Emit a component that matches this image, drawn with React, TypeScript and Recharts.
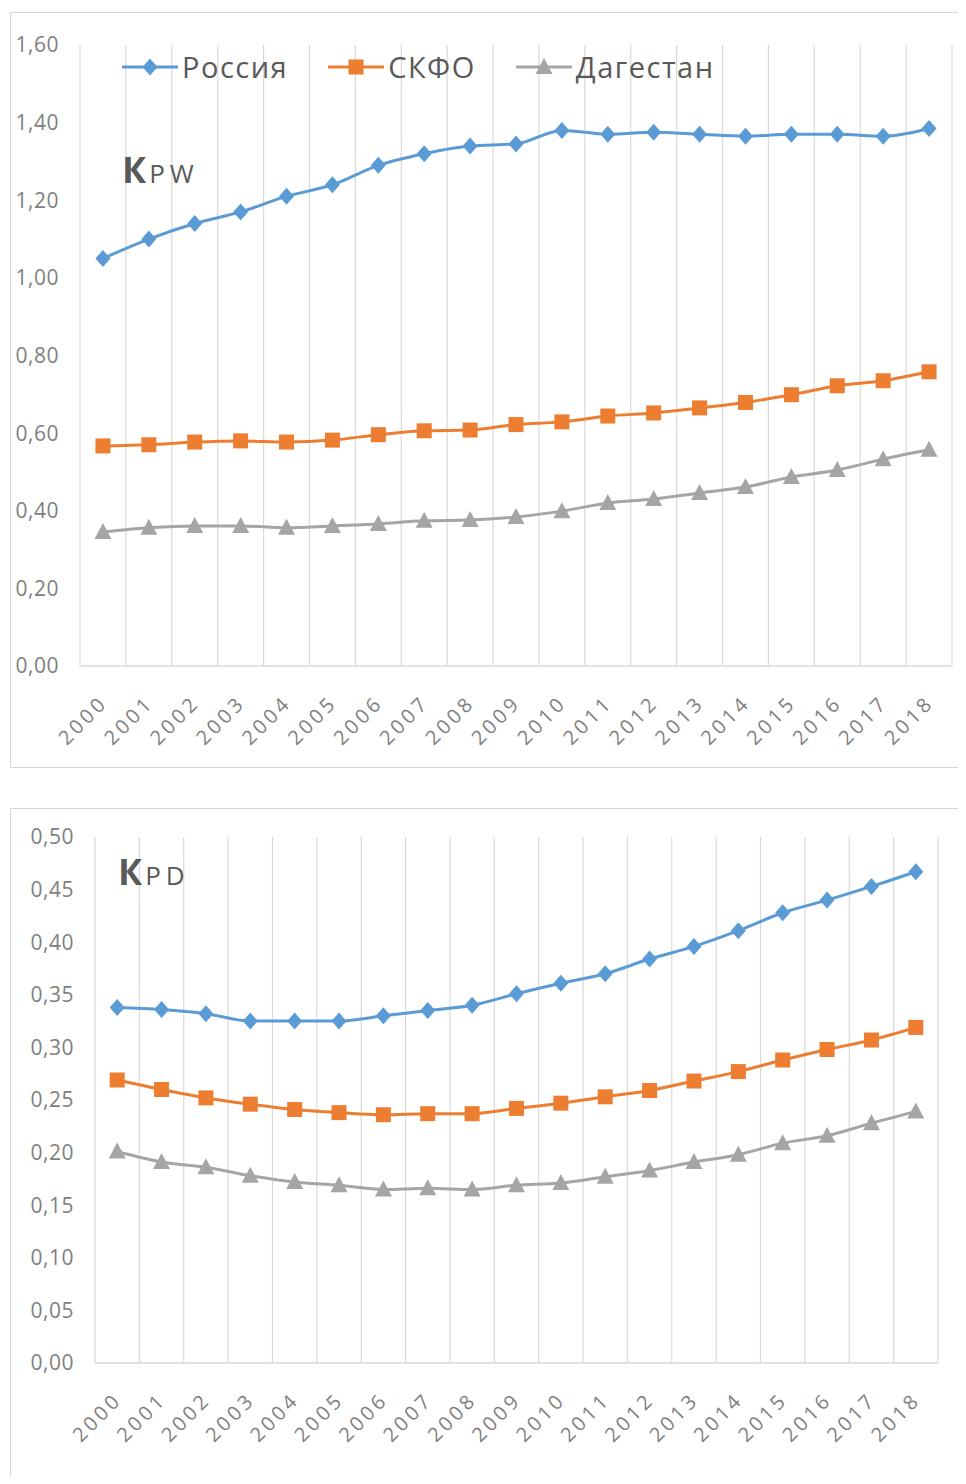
import React, { useEffect } from 'react'
import { LineChart, Line, XAxis, YAxis, CartesianGrid, Legend } from 'recharts'

const YEARS = [2000, 2001, 2002, 2003, 2004, 2005, 2006, 2007, 2008, 2009, 2010, 2011, 2012, 2013, 2014, 2015, 2016, 2017, 2018]

const KPW_RUSSIA = [1.05, 1.1, 1.14, 1.17, 1.21, 1.24, 1.29, 1.32, 1.34, 1.345, 1.38, 1.37, 1.375, 1.37, 1.365, 1.37, 1.37, 1.365, 1.385]
const KPW_SKFO = [0.567, 0.57, 0.577, 0.58, 0.577, 0.582, 0.596, 0.606, 0.608, 0.622, 0.629, 0.644, 0.652, 0.665, 0.679, 0.699, 0.722, 0.735, 0.758]
const KPW_DAGESTAN = [0.345, 0.356, 0.361, 0.361, 0.356, 0.361, 0.366, 0.374, 0.376, 0.384, 0.399, 0.42, 0.43, 0.446, 0.461, 0.487, 0.505, 0.533, 0.557]

const KPD_RUSSIA = [0.338, 0.336, 0.332, 0.325, 0.325, 0.325, 0.33, 0.335, 0.34, 0.351, 0.361, 0.37, 0.384, 0.396, 0.411, 0.428, 0.44, 0.453, 0.467]
const KPD_SKFO = [0.269, 0.26, 0.252, 0.246, 0.241, 0.238, 0.236, 0.237, 0.237, 0.242, 0.247, 0.253, 0.259, 0.268, 0.277, 0.288, 0.298, 0.307, 0.319]
const KPD_DAGESTAN = [0.201, 0.191, 0.186, 0.178, 0.172, 0.169, 0.165, 0.166, 0.165, 0.169, 0.171, 0.177, 0.183, 0.191, 0.198, 0.209, 0.216, 0.228, 0.239]

const KPW_TICKS = [0, 0.2, 0.4, 0.6, 0.8, 1.0, 1.2, 1.4, 1.6]
const KPD_TICKS = [0, 0.05, 0.1, 0.15, 0.2, 0.25, 0.3, 0.35, 0.4, 0.45, 0.5]

const SERIES = [
  { key: 'russia', name: 'Россия', color: '#5b9bd5', marker: 'diamond' },
  { key: 'skfo', name: 'СКФО', color: '#ed7d31', marker: 'square' },
  { key: 'dagestan', name: 'Дагестан', color: '#a5a5a5', marker: 'triangle' },
]

// grid lines sit between the years, like Excel's "between tick marks"
const BOUNDS = [...YEARS.map(y => y - 0.5), YEARS[YEARS.length - 1] + 0.5]

const FONT = '"Open Sans", "DejaVu Sans", sans-serif'
const TICK_COLOR = '#808080'
const GRID = '#d9d9d9'

const kpwData = YEARS.map((year, i) => ({
  year, russia: KPW_RUSSIA[i], skfo: KPW_SKFO[i], dagestan: KPW_DAGESTAN[i],
}))
const kpdData = YEARS.map((year, i) => ({
  year, russia: KPD_RUSSIA[i], skfo: KPD_SKFO[i], dagestan: KPD_DAGESTAN[i],
}))

function Marker({ type, cx, cy, color }: { type: string; cx: number; cy: number; color: string }) {
  if (type === 'diamond') {
    return <path d={`M${cx},${cy - 8.5} L${cx + 7.5},${cy} L${cx},${cy + 8.5} L${cx - 7.5},${cy} Z`} fill={color} />
  }
  if (type === 'square') {
    return <rect x={cx - 7.5} y={cy - 7.5} width={15} height={15} fill={color} />
  }
  return <path d={`M${cx},${cy - 9} L${cx + 8.5},${cy + 7} L${cx - 8.5},${cy + 7} Z`} fill={color} />
}

const makeDot = (type: string, color: string) => (props: any) => {
  const { cx, cy, index } = props
  if (cx == null || cy == null) return <g key={index} />
  return <Marker key={index} type={type} cx={cx} cy={cy} color={color} />
}

function YearTick({ x, y, payload }: any) {
  const tx = x + 6
  const ty = y + 36
  return (
    <text
      x={tx}
      y={ty}
      textAnchor="end"
      transform={`rotate(-45 ${tx} ${ty})`}
      fill={TICK_COLOR}
      fontSize={20}
      letterSpacing={3.5}
      fontFamily={FONT}
    >
      {payload.value}
    </text>
  )
}

const fmt = (v: number) => v.toFixed(2).replace('.', ',')

function LegendContent() {
  return (
    <div style={{ display: 'flex', gap: 40, fontFamily: FONT, fontSize: 29, letterSpacing: 1.5, color: '#595959' }}>
      {SERIES.map(s => (
        <div key={s.key} style={{ display: 'flex', alignItems: 'center' }}>
          <svg width={58} height={22}>
            <line x1={0} y1={11} x2={56} y2={11} stroke={s.color} strokeWidth={3} />
            <Marker type={s.marker} cx={28} cy={11} color={s.color} />
          </svg>
          <span style={{ marginLeft: 2, lineHeight: '30px' }}>{s.name}</span>
        </div>
      ))}
    </div>
  )
}

interface PanelProps {
  data: any[]
  ticks: number[]
  top: number
  height: number
  margin: { top: number; right: number; bottom: number; left: number }
  yWidth: number
  label: string
  labelX: number
  labelY: number
  legend?: boolean
}

function Panel({ data, ticks, top, height, margin, yWidth, label, labelX, labelY, legend }: PanelProps) {
  return (
    <div style={{ position: 'absolute', left: 0, top, width: 966, height }}>
      <LineChart width={966} height={height} data={data} margin={margin}>
        <CartesianGrid horizontal={false} xAxisId="grid" stroke={GRID} strokeWidth={1.2} />
        <XAxis
          xAxisId="grid"
          dataKey="year"
          type="number"
          domain={[BOUNDS[0], BOUNDS[BOUNDS.length - 1]]}
          ticks={BOUNDS}
          interval={0}
          hide
        />
        <XAxis
          dataKey="year"
          type="number"
          domain={[BOUNDS[0], BOUNDS[BOUNDS.length - 1]]}
          ticks={YEARS}
          interval={0}
          height={100}
          tickLine={false}
          tickSize={0}
          axisLine={{ stroke: GRID, strokeWidth: 1.5 }}
          tick={<YearTick />}
        />
        <YAxis
          domain={[ticks[0], ticks[ticks.length - 1]]}
          ticks={ticks}
          interval={0}
          width={yWidth}
          axisLine={false}
          tickLine={false}
          tickSize={0}
          tickMargin={21}
          tickFormatter={fmt}
          tick={{ fill: TICK_COLOR, fontSize: 21, fontFamily: FONT, letterSpacing: 0.5 }}
        />
        {legend && (
          <Legend
            layout="horizontal"
            verticalAlign="middle"
            align="center"
            content={<LegendContent />}
            wrapperStyle={{ top: 52, left: 122, width: 'auto' }}
          />
        )}
        {SERIES.map(s => (
          <Line
            key={s.key}
            dataKey={s.key}
            name={s.name}
            type="monotone"
            stroke={s.color}
            strokeWidth={3}
            dot={makeDot(s.marker, s.color)}
            activeDot={false}
            isAnimationActive={false}
          />
        ))}
      </LineChart>
      <svg width={300} height={80} style={{ position: 'absolute', left: 0, top: labelY - 60, pointerEvents: 'none' }}>
        <text x={labelX} y={60} fill="#595959" fontFamily={FONT}>
          <tspan fontSize={36} fontWeight={700}>К</tspan>
          <tspan fontSize={26} letterSpacing={5} dx={3}>{label}</tspan>
        </text>
      </svg>
    </div>
  )
}

export default function App() {
  useEffect(() => {
    document.body.style.overflow = 'hidden'
  }, [])
  const box = {
    position: 'absolute' as const,
    left: 10,
    width: 1000,
    borderTop: '1.5px solid #d6d6d6',
    borderLeft: '1.5px solid #d6d6d6',
    borderBottom: '1.5px solid #d6d6d6',
    boxSizing: 'border-box' as const,
  }
  return (
    <div style={{ position: 'relative', margin: -8, width: 966, height: 1484, overflow: 'hidden', background: '#fff' }}>
      <div style={{ ...box, top: 12, height: 756 }} />
      <div style={{ ...box, top: 808, height: 700 }} />
      <Panel
        data={kpwData}
        ticks={KPW_TICKS}
        top={0}
        height={770}
        margin={{ top: 45, right: 14, bottom: 4, left: 0 }}
        yWidth={80}
        label="PW"
        labelX={122}
        labelY={183}
        legend
      />
      <Panel
        data={kpdData}
        ticks={KPD_TICKS}
        top={800}
        height={684}
        margin={{ top: 37, right: 28, bottom: 21, left: 0 }}
        yWidth={95}
        label="PD"
        labelX={118}
        labelY={85}
      />
    </div>
  )
}
